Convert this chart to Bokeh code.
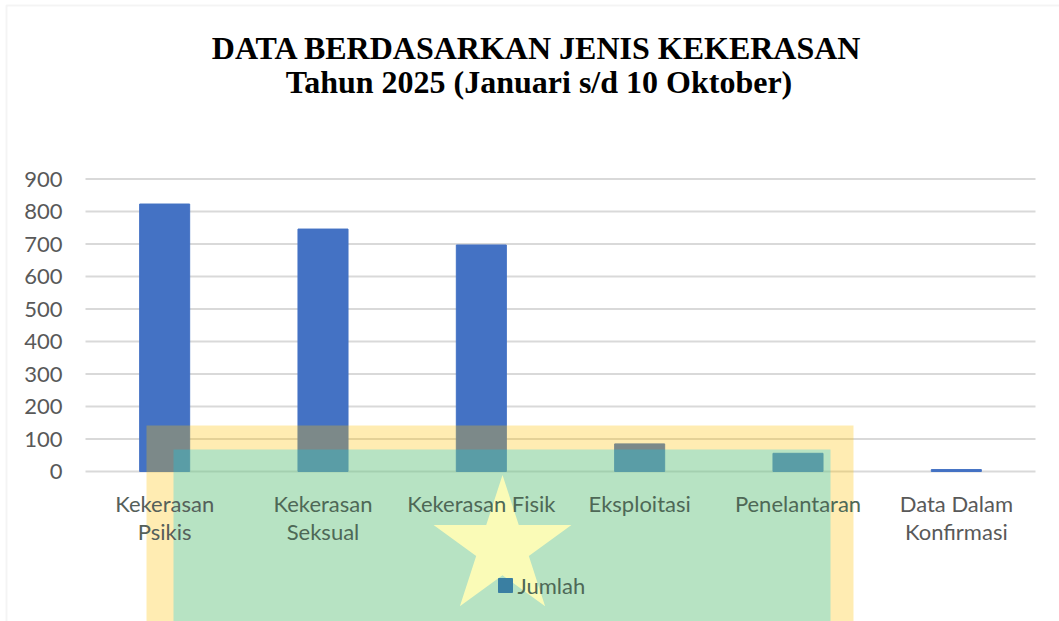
import numpy as np
from bokeh.plotting import figure
from bokeh.models import Range1d, BoxAnnotation, PolyAnnotation, Label, ColumnDataSource
from bokeh.core.properties import value
from bokeh.embed import file_html
from bokeh.resources import INLINE

# ---- data ----
categories = ["Kekerasan Psikis", "Kekerasan Seksual", "Kekerasan Fisik",
              "Eksploitasi", "Penelantaran", "Data Dalam Konfirmasi"]
tick_labels = ["Kekerasan\nPsikis", "Kekerasan\nSeksual", "Kekerasan Fisik",
               "Eksploitasi", "Penelantaran", "Data Dalam\nKonfirmasi"]
jumlah = [823, 746, 697, 85, 56, 6]
y_ticks = [0, 100, 200, 300, 400, 500, 600, 700, 800, 900]
series_name = "Jumlah"
title_1 = "DATA BERDASARKAN JENIS KEKERASAN"
title_2 = "Tahun 2025 (Januari s/d 10 Oktober)"

# ---- styles ----
LABEL_FONT = "Lato"
TEXT_COLOR = "#595959"
TINTED_TEXT = "#4E6856"          # grey text seen through the green panel
label_colors = ["#55605A", TINTED_TEXT, TINTED_TEXT, TINTED_TEXT,
                TINTED_TEXT, TEXT_COLOR]
BAR_COLOR = "#4472C4"
TINTED_BAR = "#3A7FA2"           # bar colour seen through the green panel

# ---- layout (pixels of the 1059x621 canvas) ----
W, H = 1059, 621
PLOT_L, PLOT_R = 85, 1035      # plot area left/right
Y0_PX, Y900_PX = 471, 178.5    # pixel rows of value 0 and 900
Y_MAX = 900
PX_PER_CAT = (PLOT_R - PLOT_L) / len(categories)
PX_PER_VAL = (Y0_PX - Y900_PX) / Y_MAX


def px_x(px):
    return (px - PLOT_L) / PX_PER_CAT


def px_y(py):
    return (Y0_PX - py) / PX_PER_VAL


centers = (np.arange(len(categories)) + 0.5).tolist()
src = ColumnDataSource(dict(x=centers, val=jumlah, cat=categories,
                            lab=tick_labels, col=label_colors))

p = figure(width=W, height=H, x_range=Range1d(px_x(0), px_x(W)),
           y_range=Range1d(px_y(H), px_y(0)), output_backend="svg",
           toolbar_location=None, min_border=0)
p.outline_line_color = None
p.xaxis.visible = False
p.yaxis.visible = False
p.xgrid.grid_line_color = None
p.ygrid.grid_line_color = None
p.background_fill_color = "white"
p.border_fill_color = "white"

# gridlines across the plot area
p.segment(x0=0, x1=len(categories), y0=y_ticks, y1=y_ticks,
          line_color="#D9D9D9", line_width=2)

# bars
p.vbar(x="x", top="val", width=0.316, source=src, color=BAR_COLOR)

# y tick labels
p.text(x=px_x(62), y=y_ticks, text=[str(t) for t in y_ticks],
       text_align="right", text_baseline="middle", text_font=value(LABEL_FONT),
       text_font_size="22px", text_color=TEXT_COLOR)

# category labels (drawn above the decorative panels)
p.text(x="x", y=px_y(489), text="lab", source=src, text_align="center",
       text_baseline="top", text_font=value(LABEL_FONT), text_font_size="22px",
       text_color="col", text_line_height=1.06, level="overlay")

# legend (swatch + label)
p.scatter(x=[px_x(505)], y=[px_y(585)], marker="square", size=14,
          color=TINTED_BAR, level="overlay")
p.text(x=[px_x(517)], y=[px_y(585)], text=[series_name], text_align="left",
       text_baseline="middle", text_font=value(LABEL_FONT),
       text_font_size="22px", text_color=TINTED_TEXT, level="overlay")

# titles
for txt, x, y in ((title_1, 536.5, H - 47), (title_2, 538.5, H - 81)):
    p.add_layout(Label(x=x, y=y, x_units="screen", y_units="screen", text=txt,
                       text_align="center", text_baseline="alphabetic",
                       text_font="Liberation Serif", text_font_style="bold",
                       text_font_size="32px", text_color="black"))

# outer chart border
p.add_layout(BoxAnnotation(left=px_x(6), right=px_x(W + 50), top=px_y(5),
                           bottom=px_y(H + 50), fill_alpha=0,
                           line_color="#D9D9D9", line_width=2, level="underlay"))

# decorative panels
p.add_layout(BoxAnnotation(left=px_x(146), right=px_x(853), top=px_y(425),
                           bottom=px_y(H + 50), fill_color="#FFC000",
                           fill_alpha=0.3, line_color=None, level="guide"))
p.add_layout(BoxAnnotation(left=px_x(173), right=px_x(830), top=px_y(449),
                           bottom=px_y(H + 50), fill_color="#07CEEE",
                           fill_alpha=0.29, line_color=None, level="guide"))
STAR_C = (502, 547)
STAR_R = 72.5
ang = np.pi / 2 + np.arange(10) * np.pi / 5
rad = STAR_R * np.where(np.arange(10) % 2 == 0, 1.0, 0.382)
sx = [px_x(STAR_C[0] + r * np.cos(a)) for r, a in zip(rad, ang)]
sy = [px_y(STAR_C[1] - r * np.sin(a)) for r, a in zip(rad, ang)]
p.add_layout(PolyAnnotation(xs=sx, ys=sy, fill_color="#FFFDB6", fill_alpha=0.92,
                            line_color=None, level="annotation"))

open("out.html", "w").write(file_html(p, INLINE))
